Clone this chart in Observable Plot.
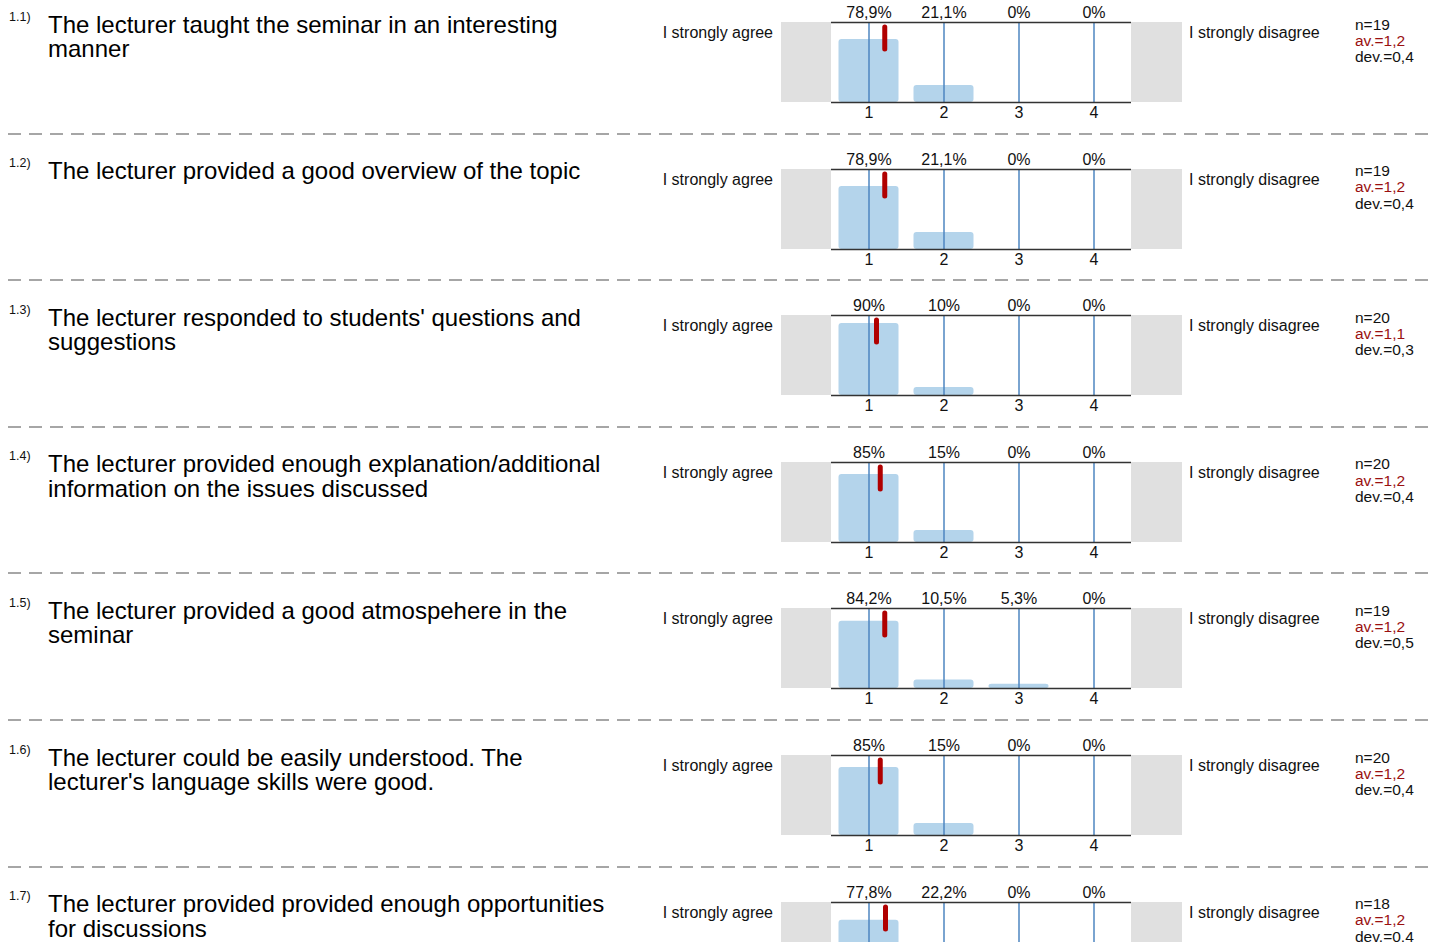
<!DOCTYPE html>
<html>
<head>
<meta charset="utf-8">
<script src="https://cdn.jsdelivr.net/npm/d3@7"></script>
<script src="https://cdn.jsdelivr.net/npm/@observablehq/plot@0.6"></script>
<style>
  html, body { margin: 0; padding: 0; background: #fff; }
  body { font-family: "Liberation Sans", Arial, sans-serif; color: #111; }
  #root { position: relative; width: 1431px; height: 942px; overflow: hidden; }
  .abs { position: absolute; white-space: pre; }
  .num { font-size: 12.5px; line-height: 12.5px; }
  .title { font-size: 24px; line-height: 24.5px; color: #000; }
  .lab { font-size: 16px; line-height: 16px; }
  .stat { font-size: 15.5px; line-height: 16.3px; }
  .gray { position: absolute; background: #e0e0e0; }
  .sep { position: absolute; height: 2px;
         background: repeating-linear-gradient(to right, #a6a6a6 0 13px, transparent 13px 21px); }
</style>
</head>
<body>
<div id="root"></div>
<script>
// ---- data ----
const questionIds = ["1.1)", "1.2)", "1.3)", "1.4)", "1.5)", "1.6)", "1.7)"];
const questions = [
  "The lecturer taught the seminar in an interesting\nmanner",
  "The lecturer provided a good overview of the topic",
  "The lecturer responded to students' questions and\nsuggestions",
  "The lecturer provided enough explanation/additional\ninformation on the issues discussed",
  "The lecturer provided a good atmospehere in the\nseminar",
  "The lecturer could be easily understood. The\nlecturer's language skills were good.",
  "The lecturer provided provided enough opportunities\nfor discussions"
];
const categories = [1, 2, 3, 4];
const percents = [
  [78.9, 21.1, 0, 0],
  [78.9, 21.1, 0, 0],
  [90, 10, 0, 0],
  [85, 15, 0, 0],
  [84.2, 10.5, 5.3, 0],
  [85, 15, 0, 0],
  [77.8, 22.2, 0, 0]
];
const means = [1.21, 1.21, 1.1, 1.15, 1.21, 1.15, 1.22];
const nValues = [19, 19, 20, 20, 19, 20, 18];
const avLabels = ["1,2", "1,2", "1,1", "1,2", "1,2", "1,2", "1,2"];
const devLabels = ["0,4", "0,4", "0,3", "0,4", "0,5", "0,4", "0,4"];
const leftPole = "I strongly agree";
const rightPole = "I strongly disagree";

// ---- layout ----
const root = document.getElementById("root");
const pitch = 146.6;
const fmtPct = v => String(v).replace(".", ",") + "%";

function add(cls, text, style) {
  const el = document.createElement("div");
  el.className = cls;
  el.textContent = text;
  Object.assign(el.style, style);
  root.appendChild(el);
  return el;
}

questions.forEach((q, i) => {
  const top = i * pitch;
  add("abs num", questionIds[i], {left: "9px", top: (top + 10.5) + "px"});
  add("abs title", q, {left: "48px", top: (top + 12.5) + "px"});
  add("abs lab", leftPole, {right: (1431 - 773) + "px", top: (top + 25) + "px", textAlign: "right"});
  add("abs lab", rightPole, {left: "1189px", top: (top + 25) + "px"});
  const st = add("abs stat", "", {left: "1355px", top: (top + 16.5) + "px"});
  st.innerHTML = `n=${nValues[i]}<br><span style="color:#9a1010">av.=${avLabels[i]}</span><br>dev.=${devLabels[i]}`;

  add("gray", "", {left: "781px", width: "50px", top: (top + 22) + "px", height: "80px"});
  add("gray", "", {left: "1131px", width: "51px", top: (top + 22) + "px", height: "80px"});

  const data = categories.map((k, j) => ({k, p: percents[i][j]}));
  const chart = Plot.plot({
    width: 500,
    height: 130,
    marginLeft: 130,
    marginRight: 70,
    marginTop: 22,
    marginBottom: 28,
    x: {domain: [0.5, 4.5], ticks: categories, tickFormat: d => String(d), tickSize: 0, tickPadding: 4, label: null},
    y: {domain: [0, 100], axis: null},
    style: {background: "transparent", fontFamily: "Liberation Sans, Arial, sans-serif", fontSize: "16px", color: "#111", overflow: "visible"},
    marks: [
      Plot.rectY(data, {x1: d => d.k - 0.5, x2: d => d.k + 0.5, y: "p", insetLeft: 7.5, insetRight: 7.5, rx: 3, fill: "#b4d4eb"}),
      Plot.ruleX(categories, {stroke: "#4e86c0", strokeWidth: 1.5}),
      Plot.ruleY([0, 100], {stroke: "#333", strokeWidth: 1.6}),
      Plot.ruleX([means[i]], {y1: 93.75, y2: 66.25, stroke: "#b00000", strokeWidth: 5, strokeLinecap: "round"}),
      Plot.text(data, {x: "k", text: d => fmtPct(d.p), frameAnchor: "top", dy: -10, lineAnchor: "middle", fill: "#111"})
    ]
  });
  chart.style.position = "absolute";
  chart.style.left = "701px";
  chart.style.top = top + "px";
  root.appendChild(chart);

  if (i < questions.length - 1) {
    add("sep", "", {left: "8px", width: "1423px", top: (top + 132.5) + "px"});
  }
});
</script>
</body>
</html>
